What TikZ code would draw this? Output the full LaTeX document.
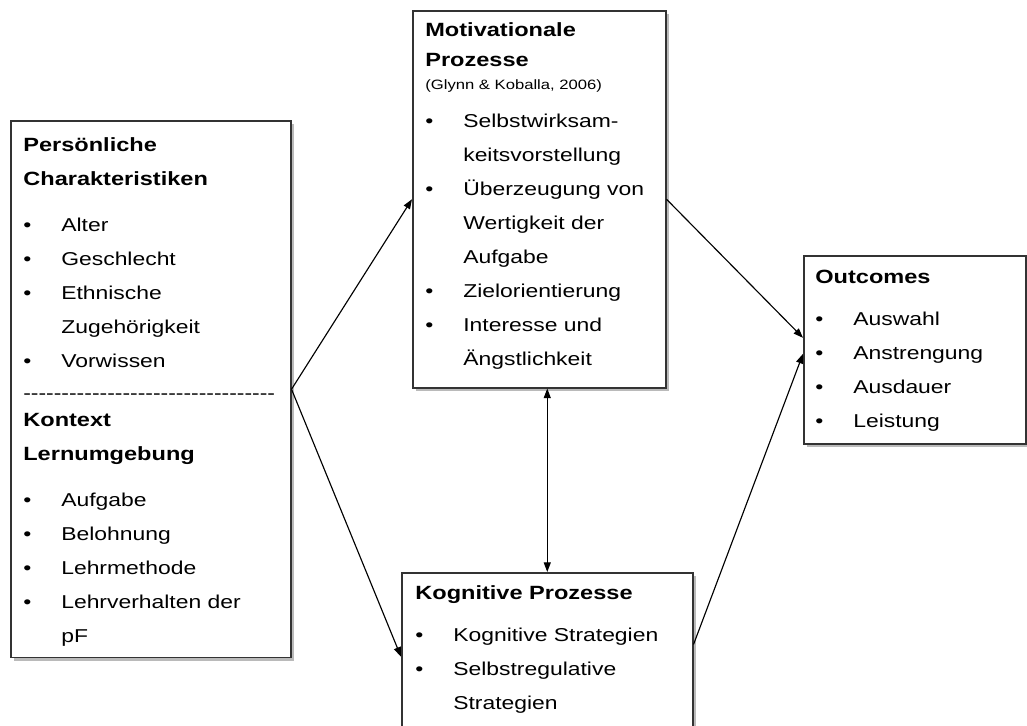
\documentclass[tikz,border=0pt]{standalone}
\usepackage{fontspec}
\setmainfont[FakeStretch=1.23]{Liberation Sans}
\usetikzlibrary{arrows.meta,shadows}

\newcommand{\bul}{\makebox[21.6pt][l]{\textbullet}}
\newcommand{\cont}{\hspace*{21.6pt}}
\newcommand{\hd}[1]{{\fontsize{10.9}{19.35}\selectfont\bfseries #1}}
\newcommand{\dashrow}{\foreach \n in {1,...,33}{\mbox{-}}}
\newcommand{\lines}[1]{\parbox[t]{6cm}{#1}}

\tikzset{
  box/.style={draw=black!80, line width=0.9pt, fill=white, anchor=north west, inner sep=0pt,
    drop shadow={shadow xshift=2pt, shadow yshift=-2pt, opacity=0.45, fill=black!60}},
  txt/.style={anchor=base west, inner sep=0pt, font=\fontsize{10.6}{19.35}\selectfont},
  arr/.style={line width=0.65pt, -{Triangle[length=5.5pt,width=4pt]}}
}

\begin{document}
\begin{tikzpicture}[x=0.02cm, y=-0.02cm]
  \clip (0,0) rectangle (1027,726);
  \fill[white] (0,0) rectangle (1027,726);

  % boxes
  \node[box, minimum width=5.6cm, minimum height=10.74cm] (pers) at (10,120) {};
  \node[box, minimum width=5.06cm, minimum height=7.54cm] (motiv) at (412,10) {};
  \node[box, minimum width=4.44cm, minimum height=3.76cm] (outc) at (803,255) {};
  \node[box, minimum width=5.82cm, minimum height=3.36cm] (kog) at (401,572) {};

  % texts
  \node[txt] (perstext) at (23,152) {\lines{\hd{Persönliche}\\
    \hd{Charakteristiken}\\[6.8pt]
    \bul Alter\\
    \bul Geschlecht\\
    \bul Ethnische\\
    \cont Zugehörigkeit\\
    \bul Vorwissen\\[-1.1pt]
    \dashrow\\[-4pt]
    \hd{Kontext}\\
    \hd{Lernumgebung}\\[6.8pt]
    \bul Aufgabe\\
    \bul Belohnung\\
    \bul Lehrmethode\\
    \bul Lehrverhalten der\\
    \cont pF}};
  \node[txt] (motivtext) at (425,37) {\lines{\hd{Motivationale}\\[-2.3pt]
    \hd{Prozesse}\\[-6.8pt]
    {\fontsize{7.7}{10}\selectfont (Glynn \& Koballa, 2006)}\\[2.8pt]
    \bul Selbstwirksam-\\
    \cont keitsvorstellung\\
    \bul Überzeugung von\\
    \cont Wertigkeit der\\
    \cont Aufgabe\\
    \bul Zielorientierung\\
    \bul Interesse und\\
    \cont Ängstlichkeit}};
  \node[txt] (outctext) at (815,283) {\lines{\hd{Outcomes}\\[5.1pt]
    \bul Auswahl\\
    \bul Anstrengung\\
    \bul Ausdauer\\
    \bul Leistung}};
  \node[txt] (kogtext) at (415,599) {\lines{\hd{Kognitive Prozesse}\\[5.1pt]
    \bul Kognitive Strategien\\
    \bul Selbstregulative\\
    \cont Strategien}};

  % connectors
  \draw[arr] (pers.east) -- (motiv.west);
  \draw[arr] (pers.east) -- (kog.west);
  \draw[arr] (motiv.east) -- ([yshift=6.8pt]outc.west);
  \draw[arr] ([yshift=7pt]kog.east) -- ([yshift=-2.3pt]outc.west);
  \draw[arr, {Triangle[length=5.5pt,width=4pt]}-{Triangle[length=5.5pt,width=4pt]}] (motiv.south -| kog.north) -- (kog.north);
\end{tikzpicture}
\end{document}
